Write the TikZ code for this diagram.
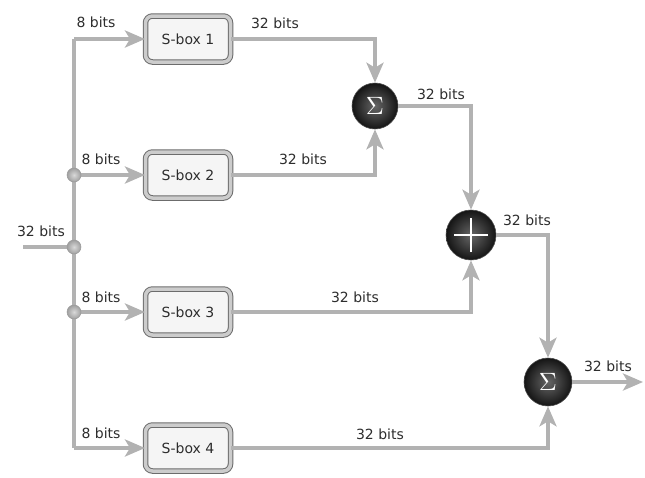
\documentclass[tikz,border=0pt]{standalone}
\usepackage{fontspec}
\usepackage{graphicx}
\setmainfont{DejaVu Sans}
\usetikzlibrary{arrows.meta,shadings}
\definecolor{wire}{RGB}{178,178,178}
\definecolor{txt}{RGB}{45,45,45}
\begin{document}
\begin{tikzpicture}[x=1pt,y=-1pt,
  wirestyle/.style={draw=wire,line width=4pt},
  arr/.style={wirestyle,-{Stealth[length=20pt,width=17pt,inset=5pt]}},
  sbox/.style={rounded corners=7pt,draw=gray!85!black,line width=1pt,double=gray!40,double distance=3.5pt,
    fill=gray!8,minimum width=85pt,minimum height=46pt,text=txt,font=\fontsize{14}{16}\selectfont,inner sep=0pt},
  opnode/.style={circle,minimum size=46pt,inner sep=0pt,shading=radial,inner color=black!60,outer color=black!92,
    draw=black!70,line width=0.6pt,text=white},
  jdot/.style={circle,minimum size=14pt,inner sep=0pt,shading=radial,inner color=gray!30,outer color=gray!75,draw=gray!80,line width=0.5pt},
  lbl/.style={text=txt,font=\fontsize{14}{16}\selectfont,inner sep=0pt}]
\useasboundingbox (0,0) rectangle (645,477);
% S-boxes
\node[sbox] (sb1) at (188,39) {S-box 1};
\node[sbox] (sb2) at (188,175) {S-box 2};
\node[sbox] (sb3) at (188,312) {S-box 3};
\node[sbox] (sb4) at (188,448) {S-box 4};
% operators
\node[opnode] (s1) at (375,106) {\scalebox{2.5}{$\Sigma$}};
\node[opnode,minimum size=50pt] (p) at (471,235) {};
\draw[white,line width=2pt] ([xshift=-17pt]p.center) -- ([xshift=17pt]p.center);
\draw[white,line width=2pt] ([yshift=-17pt]p.center) -- ([yshift=17pt]p.center);
\node[opnode,minimum size=48pt] (s2) at (548,382) {\scalebox{2.5}{$\Sigma$}};
% bus coordinates
\coordinate (top) at (74,39);
\coordinate (bot) at (74,448);
\coordinate (in) at (23,247);
\coordinate (out) at (643,382);
% wires
\draw[wirestyle] (in) -- (74,247);
\draw[wirestyle] (top) -- (bot);
\draw[arr] (top) -- (sb1.west);
\draw[arr] (74,175) -- (sb2.west);
\draw[arr] (74,312) -- (sb3.west);
\draw[arr] (bot) -- (sb4.west);
\draw[arr] (sb1.east) -| (s1.north);
\draw[arr] (sb2.east) -| (s1.south);
\draw[arr] (s1.east) -| (p.north);
\draw[arr] (sb3.east) -| (p.south);
\draw[arr] (p.east) -| (s2.north);
\draw[arr] (sb4.east) -| (s2.south);
\draw[arr] (s2.east) -- (out);
% junction dots
\node[jdot] (d0) at (74,247) {};
\node[jdot] (d1) at (74,175) {};
\node[jdot] (d2) at (74,312) {};
% labels
\node[lbl] (l0) at (41,231) {32 bits};
\node[lbl] (l1) at (96,22) {8 bits};
\node[lbl] (l2) at (101,159) {8 bits};
\node[lbl] (l3) at (101,297) {8 bits};
\node[lbl] (l4) at (101,433) {8 bits};
\node[lbl] (l5) at (275,23) {32 bits};
\node[lbl] (l6) at (303,159) {32 bits};
\node[lbl] (l7) at (441,94) {32 bits};
\node[lbl] (l8) at (355,297) {32 bits};
\node[lbl] (l9) at (527,220) {32 bits};
\node[lbl] (l10) at (380,434) {32 bits};
\node[lbl] (l11) at (608,366) {32 bits};
\end{tikzpicture}
\end{document}
